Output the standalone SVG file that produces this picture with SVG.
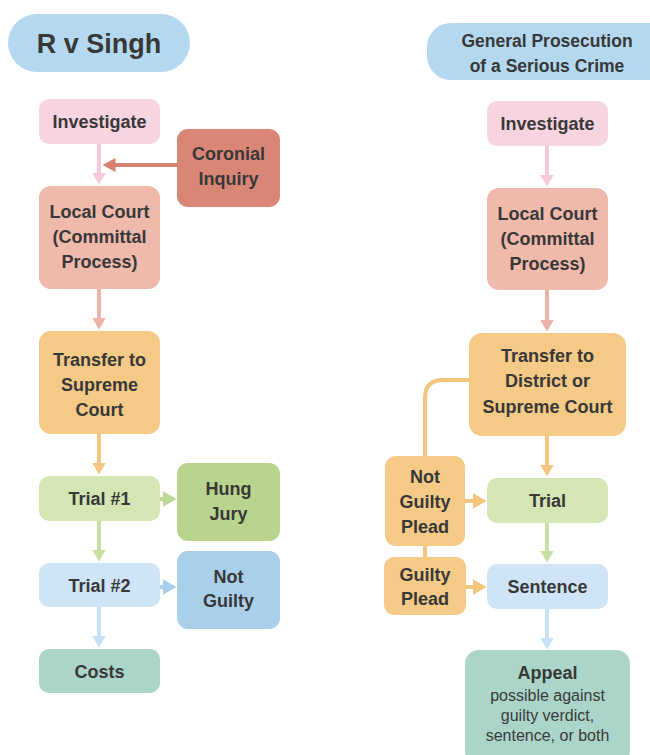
<svg xmlns="http://www.w3.org/2000/svg" width="650" height="755" viewBox="0 0 650 755">
<style>
text{font-family:"Liberation Sans",Arial,sans-serif;font-weight:bold;font-size:18px;fill:#383838;text-anchor:middle}
.t{font-size:27px}
.h{font-size:17.5px}
.s{font-weight:normal;font-size:16px;fill:#3a3a3a}
.c{fill:none;stroke-width:4}
</style>
<defs>
<marker id="aPink" markerUnits="userSpaceOnUse" markerWidth="12" markerHeight="14" viewBox="0 0 12 14" refX="0.5" refY="7" orient="auto"><path d="M0,0L12,7L0,14z" fill="#f6c8d8"/></marker>
<marker id="aSalmon" markerUnits="userSpaceOnUse" markerWidth="12" markerHeight="14" viewBox="0 0 12 14" refX="0.5" refY="7" orient="auto"><path d="M0,0L12,7L0,14z" fill="#ecb3a8"/></marker>
<marker id="aCoral" markerUnits="userSpaceOnUse" markerWidth="13" markerHeight="14" viewBox="0 0 13 14" refX="0.5" refY="7" orient="auto"><path d="M0,0L13,7L0,14z" fill="#d6806f"/></marker>
<marker id="aOrange" markerUnits="userSpaceOnUse" markerWidth="12" markerHeight="14" viewBox="0 0 12 14" refX="0.5" refY="7" orient="auto"><path d="M0,0L12,7L0,14z" fill="#f5c47f"/></marker>
<marker id="aOrangeH" markerUnits="userSpaceOnUse" markerWidth="14" markerHeight="16" viewBox="0 0 14 16" refX="0.5" refY="8" orient="auto"><path d="M0,0L14,8L0,16z" fill="#f5c47f"/></marker>
<marker id="aGreen" markerUnits="userSpaceOnUse" markerWidth="12" markerHeight="14" viewBox="0 0 12 14" refX="0.5" refY="7" orient="auto"><path d="M0,0L12,7L0,14z" fill="#c8e0a3"/></marker>
<marker id="aGreenD" markerUnits="userSpaceOnUse" markerWidth="14" markerHeight="16" viewBox="0 0 14 16" refX="0.5" refY="8" orient="auto"><path d="M0,0L14,8L0,16z" fill="#bcd894"/></marker>
<marker id="aBlue" markerUnits="userSpaceOnUse" markerWidth="12" markerHeight="14" viewBox="0 0 12 14" refX="0.5" refY="7" orient="auto"><path d="M0,0L12,7L0,14z" fill="#c8e1f5"/></marker>
<marker id="aBlueD" markerUnits="userSpaceOnUse" markerWidth="14" markerHeight="16" viewBox="0 0 14 16" refX="0.5" refY="8" orient="auto"><path d="M0,0L14,8L0,16z" fill="#aacfec"/></marker>
</defs>
<rect width="650" height="755" fill="#ffffff"/>
<g id="connectors">
<path class="c" stroke="#f6c8d8" d="M99,144V173" marker-end="url(#aPink)"/>
<path class="c" stroke="#d6806f" d="M177,165H115" marker-end="url(#aCoral)"/>
<path class="c" stroke="#ecb3a8" d="M99,289V318" marker-end="url(#aSalmon)"/>
<path class="c" stroke="#f5c47f" d="M99,434V463" marker-end="url(#aOrange)"/>
<path class="c" stroke="#bcd894" d="M160,499H163" marker-end="url(#aGreenD)"/>
<path class="c" stroke="#c8e0a3" d="M99,521V550" marker-end="url(#aGreen)"/>
<path class="c" stroke="#aacfec" d="M160,587H163" marker-end="url(#aBlueD)"/>
<path class="c" stroke="#c8e1f5" d="M99,607V636" marker-end="url(#aBlue)"/>
<path class="c" stroke="#f6c8d8" d="M547,146V175" marker-end="url(#aPink)"/>
<path class="c" stroke="#ecb3a8" d="M547,290V320" marker-end="url(#aSalmon)"/>
<path class="c" stroke="#f5c47f" d="M469,380H443Q425,380 425,398V560"/>
<path class="c" stroke="#f5c47f" d="M547,436V465" marker-end="url(#aOrange)"/>
<path class="c" stroke="#f5c47f" d="M465,501H473" marker-end="url(#aOrangeH)"/>
<path class="c" stroke="#c8e0a3" d="M547,522V551" marker-end="url(#aGreen)"/>
<path class="c" stroke="#f5c47f" d="M466,587H473" marker-end="url(#aOrangeH)"/>
<path class="c" stroke="#c8e1f5" d="M547,609V638" marker-end="url(#aBlue)"/>
</g>
<g id="title-singh"><rect x="8" y="14" width="182" height="58" rx="29" fill="#b4d8f0"/><text class="t" x="99" y="53">R v Singh</text></g>
<g id="title-general"><rect x="427" y="23" width="250" height="57" rx="24" fill="#b4d8f0"/><text class="h" x="547" y="47">General Prosecution</text><text class="h" x="547" y="72">of a Serious Crime</text></g>
<g id="l-investigate"><rect x="39" y="99" width="121" height="45" rx="10" fill="#f8d3e0"/><text x="99.5" y="128">Investigate</text></g>
<g id="l-coronial"><rect x="177" y="129" width="103" height="78" rx="11" fill="#d98677"/><text x="228.5" y="160">Coronial</text><text x="228.5" y="185">Inquiry</text></g>
<g id="l-local"><rect x="39" y="186" width="121" height="103" rx="12" fill="#efb9ab"/><text x="99.5" y="218">Local Court</text><text x="99.5" y="243">(Committal</text><text x="99.5" y="268">Process)</text></g>
<g id="l-transfer"><rect x="39" y="331" width="121" height="103" rx="12" fill="#f5c986"/><text x="99.5" y="366">Transfer to</text><text x="99.5" y="391">Supreme</text><text x="99.5" y="416">Court</text></g>
<g id="l-trial1"><rect x="39" y="476" width="121" height="45" rx="10" fill="#d3e6b4"/><text x="99.5" y="505">Trial #1</text></g>
<g id="l-hung"><rect x="177" y="463" width="103" height="78" rx="11" fill="#b8d48f"/><text x="228.5" y="495">Hung</text><text x="228.5" y="520">Jury</text></g>
<g id="l-trial2"><rect x="39" y="563" width="121" height="44" rx="10" fill="#cfe4f6"/><text x="99.5" y="592">Trial #2</text></g>
<g id="l-notguilty"><rect x="177" y="551" width="103" height="78" rx="11" fill="#aacfeb"/><text x="228.5" y="583">Not</text><text x="228.5" y="607">Guilty</text></g>
<g id="l-costs"><rect x="39" y="649" width="121" height="44" rx="10" fill="#aad5c8"/><text x="99.5" y="678">Costs</text></g>
<g id="r-investigate"><rect x="487" y="101" width="121" height="45" rx="10" fill="#f8d3e0"/><text x="547.5" y="130">Investigate</text></g>
<g id="r-local"><rect x="487" y="188" width="121" height="102" rx="12" fill="#efb9ab"/><text x="547.5" y="220">Local Court</text><text x="547.5" y="245">(Committal</text><text x="547.5" y="270">Process)</text></g>
<g id="r-transfer"><rect x="469" y="333" width="157" height="103" rx="13" fill="#f5c986"/><text x="547.5" y="362">Transfer to</text><text x="547.5" y="387">District or</text><text x="547.5" y="413">Supreme Court</text></g>
<g id="r-notguiltyplead"><rect x="385" y="456" width="80" height="90" rx="11" fill="#f5c986"/><text x="425" y="483">Not</text><text x="425" y="508">Guilty</text><text x="425" y="533">Plead</text></g>
<g id="r-guiltyplead"><rect x="384" y="557" width="82" height="58" rx="10" fill="#f5c986"/><text x="425" y="581">Guilty</text><text x="425" y="605">Plead</text></g>
<g id="r-trial"><rect x="487" y="478" width="121" height="45" rx="10" fill="#d3e6b4"/><text x="547.5" y="507">Trial</text></g>
<g id="r-sentence"><rect x="487" y="564" width="121" height="45" rx="10" fill="#cfe4f6"/><text x="547.5" y="593">Sentence</text></g>
<g id="r-appeal"><rect x="465" y="650" width="165" height="115" rx="14" fill="#aad5c8"/><text x="547.5" y="679">Appeal</text><text class="s" x="547.5" y="701">possible against</text><text class="s" x="547.5" y="721">guilty verdict,</text><text class="s" x="547.5" y="741">sentence, or both</text></g>
</svg>
